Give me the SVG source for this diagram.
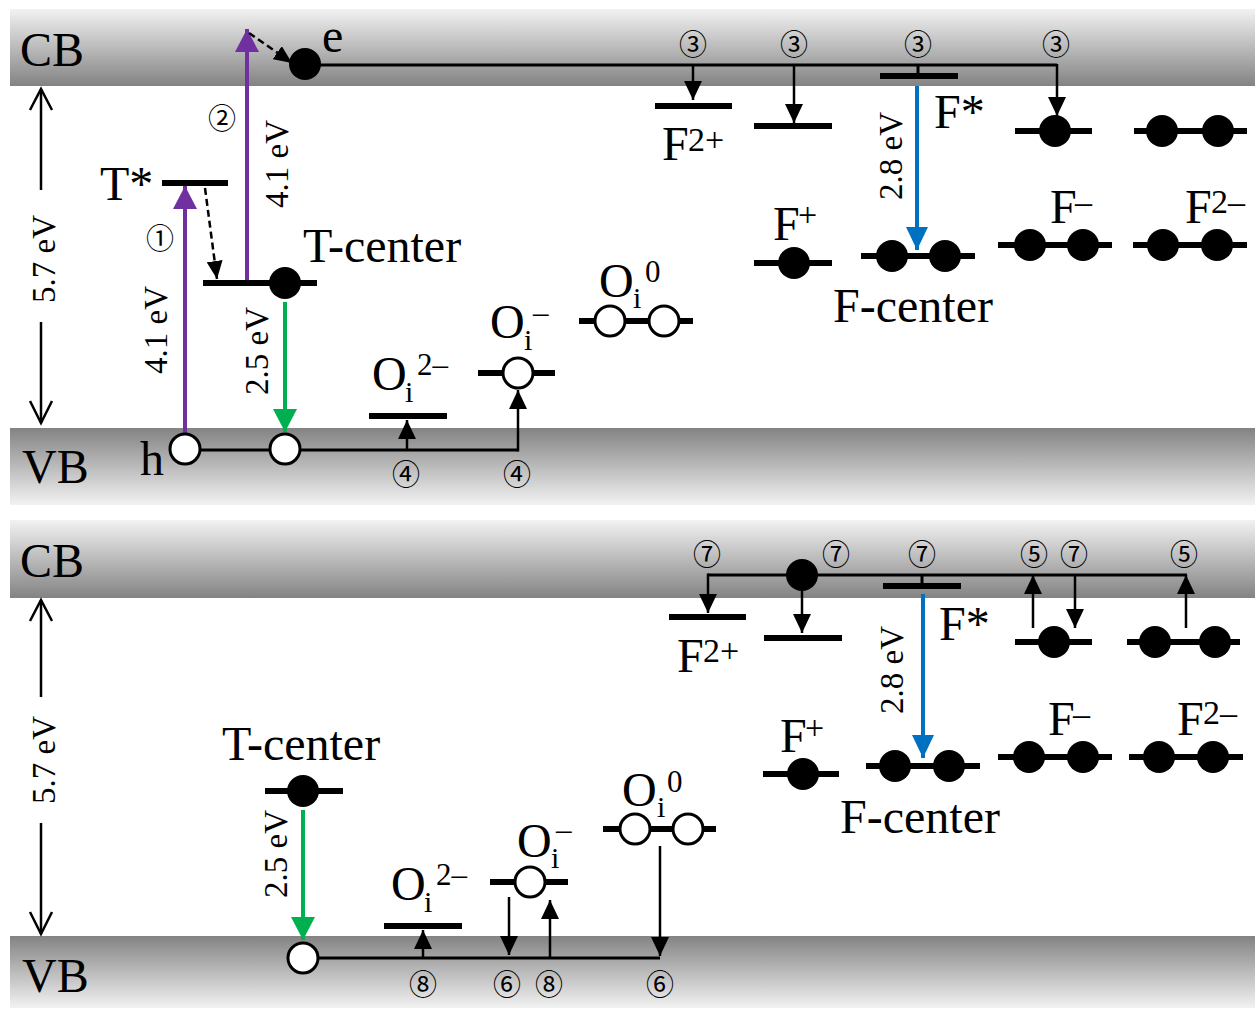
<svg xmlns="http://www.w3.org/2000/svg" width="1255" height="1010" viewBox="0 0 1255 1010">
<defs>
<linearGradient id="gCB" x1="0" y1="0" x2="0" y2="1"><stop offset="0" stop-color="#f2f2f2"/><stop offset="1" stop-color="#838383"/></linearGradient>
<linearGradient id="gVB" x1="0" y1="0" x2="0" y2="1"><stop offset="0" stop-color="#838383"/><stop offset="1" stop-color="#f2f2f2"/></linearGradient>
<marker id="mBk" markerUnits="userSpaceOnUse" markerWidth="19" markerHeight="18" refX="19" refY="9" orient="auto"><path d="M0,0 L19,9 L0,18 z" fill="#000"/></marker>
<marker id="mDash" markerUnits="userSpaceOnUse" markerWidth="18" markerHeight="16" refX="18" refY="8" orient="auto"><path d="M0,0 L18,8 L0,16 z" fill="#000"/></marker>
<marker id="mPu" markerUnits="userSpaceOnUse" markerWidth="23" markerHeight="24" refX="23" refY="12" orient="auto"><path d="M0,0 L23,12 L0,24 z" fill="#7030A0"/></marker>
<marker id="mGr" markerUnits="userSpaceOnUse" markerWidth="23" markerHeight="24" refX="23" refY="12" orient="auto"><path d="M0,0 L23,12 L0,24 z" fill="#00B050"/></marker>
<marker id="mBl" markerUnits="userSpaceOnUse" markerWidth="23" markerHeight="22" refX="23" refY="11" orient="auto"><path d="M0,0 L23,11 L0,22 z" fill="#0070C0"/></marker>
</defs>
<style>
text{font-family:"Liberation Serif","Times New Roman",serif;fill:#000}
.big{font-size:48px}
.sup{font-size:31px}
.fsup{font-size:34px}
.sub{font-size:30px}
.ev{font-size:33px}
.num{font-family:"Noto Sans CJK JP","DejaVu Sans",sans-serif;font-size:28px}
.lvl{stroke:#000;stroke-width:6;fill:none}
.con{stroke:#000;stroke-width:3;fill:none}
.arr{stroke:#000;stroke-width:2.5;fill:none;marker-end:url(#mBk)}
.dash{stroke:#000;stroke-width:2.5;fill:none;stroke-dasharray:7 4;marker-end:url(#mDash)}
.pu{stroke:#7030A0;stroke-width:4;fill:none;marker-end:url(#mPu)}
.gr{stroke:#00B050;stroke-width:4;fill:none;marker-end:url(#mGr)}
.bl{stroke:#0070C0;stroke-width:4;fill:none;marker-end:url(#mBl)}
.el{fill:#000}
.ho{fill:#fff;stroke:#000;stroke-width:3}
.scale{stroke:#000;stroke-width:2.5;fill:none}
</style>

<g id="bands">
<rect x="10" y="9" width="1245" height="77" fill="url(#gCB)"/>
<rect x="10" y="428" width="1245" height="77" fill="url(#gVB)"/>
<rect x="10" y="520" width="1245" height="78" fill="url(#gCB)"/>
<rect x="10" y="936" width="1245" height="72" fill="url(#gVB)"/>
<text class="big" x="20" y="66">CB</text>
<text class="big" x="22" y="483">VB</text>
<text class="big" x="20" y="577">CB</text>
<text class="big" x="22" y="992">VB</text>
</g>

<g id="gap-scale">
<line class="scale" x1="41" y1="89" x2="41" y2="190"/>
<polyline class="scale" points="30,110 41,89 52,110"/>
<line class="scale" x1="41" y1="322" x2="41" y2="423"/>
<polyline class="scale" points="30,401 41,423 52,401"/>
<text class="ev" text-anchor="middle" transform="translate(55,259) rotate(-90)">5.7 eV</text>
<line class="scale" x1="41" y1="600" x2="41" y2="697"/>
<polyline class="scale" points="30,621 41,600 52,621"/>
<line class="scale" x1="41" y1="823" x2="41" y2="934"/>
<polyline class="scale" points="30,912 41,934 52,912"/>
<text class="ev" text-anchor="middle" transform="translate(55,760) rotate(-90)">5.7 eV</text>
</g>

<g id="connectors">
<!-- top panel -->
<line class="pu" x1="185" y1="434" x2="185" y2="186"/>
<line class="pu" x1="247" y1="280" x2="247" y2="29"/>
<line class="dash" x1="205" y1="188" x2="217" y2="279"/>
<line class="dash" x1="249" y1="33" x2="292" y2="63"/>
<line class="gr" x1="285" y1="302" x2="285" y2="432"/>
<line class="bl" x1="917" y1="86" x2="917" y2="250"/>
<polyline class="con" points="305,65 1057,65"/>
<line class="arr" x1="1057" y1="64" x2="1057" y2="116"/>
<line class="arr" x1="693" y1="65" x2="693" y2="100"/>
<line class="arr" x1="794" y1="65" x2="794" y2="123"/>
<line class="con" x1="918" y1="65" x2="918" y2="76"/>
<polyline class="con" points="185,450 518,450"/>
<line class="arr" x1="518" y1="451.5" x2="518" y2="390"/>
<line class="arr" x1="407" y1="450" x2="407" y2="420"/>
<!-- bottom panel -->
<line class="gr" x1="303" y1="810" x2="303" y2="940"/>
<line class="bl" x1="923" y1="594" x2="923" y2="758"/>
<polyline class="con" points="708,575 1187,575"/>
<line class="arr" x1="708" y1="573.5" x2="708" y2="613"/>
<line class="arr" x1="802" y1="585" x2="802" y2="633"/>
<line class="con" x1="922" y1="575" x2="922" y2="586"/>
<line class="arr" x1="1033" y1="628" x2="1033" y2="575"/>
<line class="arr" x1="1075" y1="575" x2="1075" y2="628"/>
<line class="arr" x1="1186" y1="628" x2="1186" y2="575"/>
<polyline class="con" points="303,958 660,958"/>
<line class="arr" x1="423" y1="958" x2="423" y2="930"/>
<line class="arr" x1="509" y1="897" x2="509" y2="955"/>
<line class="arr" x1="550" y1="958" x2="550" y2="900"/>
<line class="arr" x1="660" y1="846" x2="660" y2="956"/>
</g>

<g id="labels-steps">
<text class="num" x="160" y="237" text-anchor="middle" dominant-baseline="central">①</text>
<text class="num" x="222" y="117" text-anchor="middle" dominant-baseline="central">②</text>
<text class="num" x="693" y="43" text-anchor="middle" dominant-baseline="central">③</text>
<text class="num" x="794" y="43" text-anchor="middle" dominant-baseline="central">③</text>
<text class="num" x="918" y="43" text-anchor="middle" dominant-baseline="central">③</text>
<text class="num" x="1056" y="43" text-anchor="middle" dominant-baseline="central">③</text>
<text class="num" x="406" y="473" text-anchor="middle" dominant-baseline="central">④</text>
<text class="num" x="517" y="473" text-anchor="middle" dominant-baseline="central">④</text>
<text class="num" x="707" y="553" text-anchor="middle" dominant-baseline="central">⑦</text>
<text class="num" x="836" y="553" text-anchor="middle" dominant-baseline="central">⑦</text>
<text class="num" x="922" y="553" text-anchor="middle" dominant-baseline="central">⑦</text>
<text class="num" x="1034" y="553" text-anchor="middle" dominant-baseline="central">⑤</text>
<text class="num" x="1074" y="553" text-anchor="middle" dominant-baseline="central">⑦</text>
<text class="num" x="1184" y="553" text-anchor="middle" dominant-baseline="central">⑤</text>
<text class="num" x="423" y="983" text-anchor="middle" dominant-baseline="central">⑧</text>
<text class="num" x="507" y="983" text-anchor="middle" dominant-baseline="central">⑥</text>
<text class="num" x="549" y="983" text-anchor="middle" dominant-baseline="central">⑧</text>
<text class="num" x="660" y="983" text-anchor="middle" dominant-baseline="central">⑥</text>
<text class="ev" text-anchor="middle" transform="translate(167,330) rotate(-90)">4.1 eV</text>
<text class="ev" text-anchor="middle" transform="translate(288,164) rotate(-90)">4.1 eV</text>
<text class="ev" text-anchor="middle" transform="translate(268,351) rotate(-90)">2.5 eV</text>
<text class="ev" text-anchor="middle" transform="translate(902,156) rotate(-90)">2.8 eV</text>
<text class="ev" text-anchor="middle" transform="translate(287,854) rotate(-90)">2.5 eV</text>
<text class="ev" text-anchor="middle" transform="translate(903,670) rotate(-90)">2.8 eV</text>
</g>

<!-- top panel nodes -->
<g id="T-star-top"><line class="lvl" x1="162" y1="183" x2="228" y2="183"/><text class="big" x="100" y="200">T*</text></g>
<g id="T-center-top"><line class="lvl" x1="203" y1="283" x2="317" y2="283"/><circle class="el" cx="285" cy="283" r="16"/><text class="big" x="303" y="262">T-center</text></g>
<g id="electron-e"><circle class="el" cx="305" cy="64" r="16"/><text class="big" x="322" y="52">e</text></g>
<g id="hole-h"><circle class="ho" cx="185" cy="449" r="15"/><text class="big" x="140" y="475">h</text></g>
<g id="hole-2-top"><circle class="ho" cx="285" cy="449" r="15"/></g>
<g id="Oi2-top"><line class="lvl" x1="369" y1="416" x2="447" y2="416"/><text class="big" x="372" y="390">O</text><text class="sub" x="405" y="402">i</text><text class="sup" x="417" y="375">2–</text></g>
<g id="Oi1-top"><line class="lvl" x1="478" y1="373" x2="555" y2="373"/><circle class="ho" cx="518" cy="373" r="15"/><text class="big" x="490" y="338">O</text><text class="sub" x="524" y="350">i</text><text class="sup" x="533" y="323">–</text></g>
<g id="Oi0-top"><line class="lvl" x1="579" y1="321" x2="693" y2="321"/><circle class="ho" cx="610" cy="321" r="15"/><circle class="ho" cx="664" cy="321" r="15"/><text class="big" x="599" y="297">O</text><text class="sub" x="633" y="308">i</text><text class="sup" x="645" y="282">0</text></g>
<g id="F2p-top"><line class="lvl" x1="655" y1="106" x2="732" y2="106"/><text class="big" x="662" y="160">F</text><text class="fsup" x="688" y="151">2+</text></g>
<g id="Fp-excited-top"><line class="lvl" x1="754" y1="126" x2="832" y2="126"/></g>
<g id="Fstar-top"><line class="lvl" x1="880" y1="76" x2="958" y2="76"/><text class="big" x="934" y="128">F*</text></g>
<g id="F-exc1-top"><line class="lvl" x1="1015" y1="131" x2="1092" y2="131"/><circle class="el" cx="1055" cy="131" r="16"/></g>
<g id="F-exc2-top"><line class="lvl" x1="1134" y1="131" x2="1247" y2="131"/><circle class="el" cx="1162" cy="131" r="16"/><circle class="el" cx="1218" cy="131" r="16"/></g>
<g id="Fp-top"><line class="lvl" x1="754" y1="263" x2="832" y2="263"/><circle class="el" cx="794" cy="263" r="16"/><text class="big" x="773" y="240">F</text><text class="fsup" x="798" y="226">+</text></g>
<g id="Fc-top"><line class="lvl" x1="861" y1="256" x2="975" y2="256"/><circle class="el" cx="892" cy="256" r="16"/><circle class="el" cx="945" cy="256" r="16"/><text class="big" x="833" y="322">F-center</text></g>
<g id="Fm-top"><line class="lvl" x1="998" y1="245" x2="1112" y2="245"/><circle class="el" cx="1030" cy="245" r="16"/><circle class="el" cx="1083" cy="245" r="16"/><text class="big" x="1050" y="223">F</text><text class="fsup" x="1075" y="213">–</text></g>
<g id="F2m-top"><line class="lvl" x1="1133" y1="245" x2="1247" y2="245"/><circle class="el" cx="1163" cy="245" r="16"/><circle class="el" cx="1217" cy="245" r="16"/><text class="big" x="1185" y="223">F</text><text class="fsup" x="1211" y="213">2–</text></g>

<!-- bottom panel nodes -->
<g id="T-center-bot"><line class="lvl" x1="265" y1="791" x2="343" y2="791"/><circle class="el" cx="303" cy="791" r="16"/><text class="big" x="222" y="760">T-center</text></g>
<g id="hole-bot"><circle class="ho" cx="303" cy="958" r="15"/></g>
<g id="Oi2-bot"><line class="lvl" x1="384" y1="926" x2="462" y2="926"/><text class="big" x="391" y="900">O</text><text class="sub" x="424" y="912">i</text><text class="sup" x="436" y="885">2–</text></g>
<g id="Oi1-bot"><line class="lvl" x1="490" y1="882" x2="568" y2="882"/><circle class="ho" cx="530" cy="882" r="15"/><text class="big" x="517" y="857">O</text><text class="sub" x="551" y="868">i</text><text class="sup" x="556" y="840">–</text></g>
<g id="Oi0-bot"><line class="lvl" x1="603" y1="829" x2="716" y2="829"/><circle class="ho" cx="635" cy="829" r="15"/><circle class="ho" cx="688" cy="829" r="15"/><text class="big" x="622" y="806">O</text><text class="sub" x="657" y="817">i</text><text class="sup" x="667" y="792">0</text></g>
<g id="electron-bot"><circle class="el" cx="802" cy="575" r="16"/></g>
<g id="F2p-bot"><line class="lvl" x1="669" y1="617" x2="746" y2="617"/><text class="big" x="677" y="672">F</text><text class="fsup" x="703" y="662">2+</text></g>
<g id="Fp-excited-bot"><line class="lvl" x1="764" y1="638" x2="842" y2="638"/></g>
<g id="Fstar-bot"><line class="lvl" x1="883" y1="586" x2="961" y2="586"/><text class="big" x="939" y="640">F*</text></g>
<g id="F-exc1-bot"><line class="lvl" x1="1015" y1="642" x2="1092" y2="642"/><circle class="el" cx="1054" cy="642" r="16"/></g>
<g id="F-exc2-bot"><line class="lvl" x1="1127" y1="642" x2="1240" y2="642"/><circle class="el" cx="1155" cy="642" r="16"/><circle class="el" cx="1215" cy="642" r="16"/></g>
<g id="Fp-bot"><line class="lvl" x1="763" y1="774" x2="839" y2="774"/><circle class="el" cx="803" cy="774" r="16"/><text class="big" x="780" y="752">F</text><text class="fsup" x="805" y="739">+</text></g>
<g id="Fc-bot"><line class="lvl" x1="866" y1="766" x2="980" y2="766"/><circle class="el" cx="895" cy="766" r="16"/><circle class="el" cx="949" cy="766" r="16"/><text class="big" x="840" y="833">F-center</text></g>
<g id="Fm-bot"><line class="lvl" x1="998" y1="757" x2="1112" y2="757"/><circle class="el" cx="1029" cy="757" r="16"/><circle class="el" cx="1083" cy="757" r="16"/><text class="big" x="1048" y="735">F</text><text class="fsup" x="1073" y="725">–</text></g>
<g id="F2m-bot"><line class="lvl" x1="1129" y1="757" x2="1243" y2="757"/><circle class="el" cx="1159" cy="757" r="16"/><circle class="el" cx="1213" cy="757" r="16"/><text class="big" x="1177" y="735">F</text><text class="fsup" x="1203" y="724">2–</text></g>
</svg>
